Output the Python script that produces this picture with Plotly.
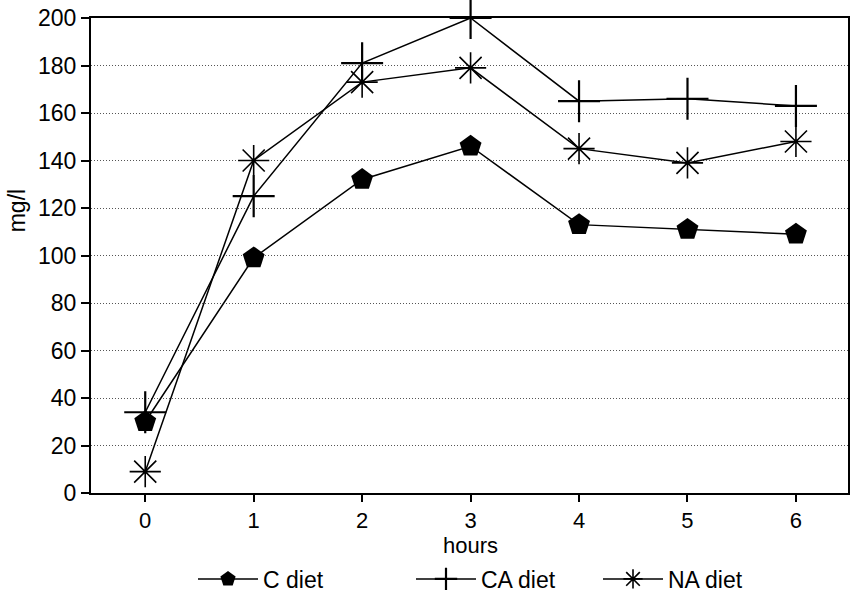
import plotly.graph_objects as go

hours = [0, 1, 2, 3, 4, 5, 6]
c_diet = [30, 99, 132, 146, 113, 111, 109]
ca_diet = [34, 125, 181, 200, 165, 166, 163]
na_diet = [9, 140, 173, 179, 145, 139, 148]
y_ticks = [0, 20, 40, 60, 80, 100, 120, 140, 160, 180, 200]

FONT = "Liberation Sans, Arial, sans-serif"
FS = 23

fig = go.Figure()
fig.add_trace(go.Scatter(
    x=hours, y=c_diet, name="C diet", mode="lines+markers", legend="legend",
    line=dict(color="black", width=1.5),
    marker=dict(symbol="pentagon", size=23, color="black"),
    cliponaxis=False))
fig.add_trace(go.Scatter(
    x=hours, y=ca_diet, name="CA diet", mode="lines+markers", legend="legend2",
    line=dict(color="black", width=1.5),
    marker=dict(symbol="cross-thin-open", size=30, color="black",
                line=dict(width=2.2, color="black")),
    cliponaxis=False))
fig.add_trace(go.Scatter(
    x=hours, y=na_diet, name="NA diet", mode="lines+markers", legend="legend3",
    line=dict(color="black", width=1.5),
    marker=dict(symbol="asterisk-open", size=26, color="black",
                line=dict(width=1.6, color="black")),
    cliponaxis=False))

def leg(xpix):
    return dict(orientation="h", x=(xpix - 5 - 91) / 757, xanchor="left",
                y=-0.181, yanchor="middle", font=dict(size=FS),
                itemwidth=60, bgcolor="rgba(0,0,0,0)")

fig.update_layout(
    width=852, height=595,
    margin=dict(l=91, r=4, t=18, b=102, autoexpand=False),
    paper_bgcolor="white", plot_bgcolor="white",
    font=dict(family=FONT, size=FS, color="black"),
    showlegend=True,
    legend=leg(198), legend2=leg(416), legend3=leg(603),
    xaxis=dict(range=[-0.5, 6.48], tickvals=hours, ticks="outside",
               ticklen=7, tickwidth=1.5, tickcolor="black",
               showgrid=False, zeroline=False,
               showline=True, linecolor="black", linewidth=2, mirror=True,
               tickfont=dict(size=22)),
    yaxis=dict(range=[0, 200], tickvals=y_ticks, ticks="outside",
               ticklen=8, tickwidth=1.5, tickcolor="black",
               showgrid=True, gridcolor="#555", gridwidth=1, griddash="1px,2px",
               zeroline=False,
               showline=True, linecolor="black", linewidth=2, mirror=True,
               tickfont=dict(size=FS)),
    annotations=[
        dict(text="hours", x=3, xref="x", y=-0.11, yref="paper",
             yanchor="middle", showarrow=False, font=dict(size=22)),
        dict(text="mg/l", x=(17 - 91) / 757, xref="paper", y=0.593, yref="paper",
             xanchor="center", yanchor="middle",
             textangle=-90, showarrow=False, font=dict(size=FS)),
    ],
)

fig.write_html("out.html")
